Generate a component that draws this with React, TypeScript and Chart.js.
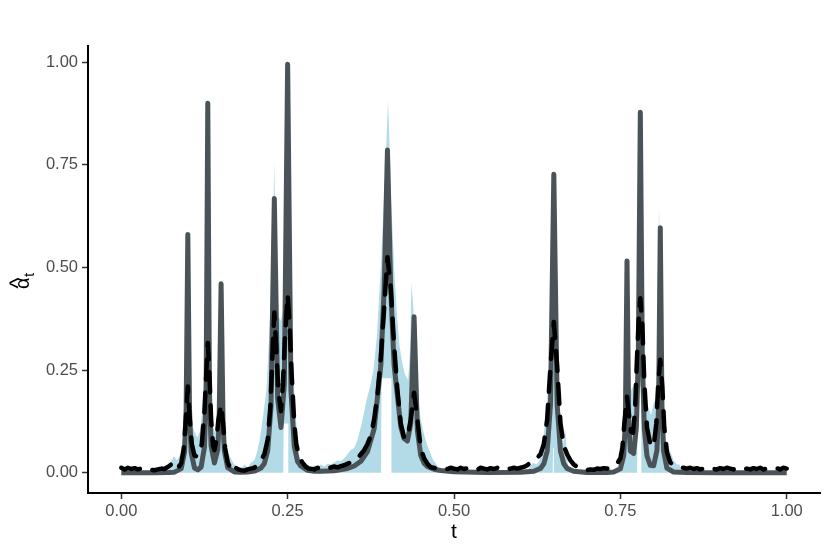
import React, { useEffect, useRef } from "react";
import { Chart, registerables } from "chart.js";

Chart.register(...registerables);

// True signal (solid grey line)
const trueT = [
  0, 0.05, 0.07, 0.08, 0.09, 0.095, 0.0975,
  0.1, 0.1025, 0.105, 0.11, 0.115, 0.12, 0.125, 0.1275,
  0.13, 0.1325, 0.135, 0.14, 0.145, 0.147,
  0.15, 0.153, 0.155, 0.16, 0.17, 0.18, 0.19, 0.2,
  0.21, 0.215, 0.22, 0.225, 0.23, 0.235, 0.24, 0.245,
  0.25, 0.255, 0.26, 0.265, 0.27, 0.28, 0.29, 0.3,
  0.32, 0.34, 0.35, 0.36, 0.37, 0.38, 0.39, 0.395,
  0.4, 0.405, 0.41, 0.42, 0.425, 0.43, 0.435,
  0.44, 0.445, 0.45, 0.455, 0.46, 0.47, 0.48, 0.5,
  0.55, 0.6, 0.62, 0.63, 0.635, 0.64, 0.645,
  0.65, 0.655, 0.66, 0.665, 0.67, 0.68, 0.7,
  0.73, 0.74, 0.75, 0.755, 0.7575,
  0.76, 0.7625, 0.765, 0.77, 0.774, 0.777,
  0.78, 0.783, 0.786, 0.79, 0.795, 0.8, 0.805, 0.8075,
  0.81, 0.8125, 0.815, 0.82, 0.83, 0.85, 0.9, 1,
];
const trueY = [
  0, 0.0001, 0.0004, 0.0013, 0.0099, 0.049, 0.155,
  0.58, 0.156, 0.05, 0.0113, 0.0072, 0.0138, 0.0625, 0.195,
  0.9, 0.196, 0.065, 0.0237, 0.056, 0.119,
  0.46, 0.117, 0.053, 0.012, 0.0018, 0.0011, 0.0019, 0.0038,
  0.0113, 0.0225, 0.053, 0.161, 0.668, 0.18, 0.11, 0.214,
  0.995, 0.199, 0.064, 0.027, 0.0157, 0.0057, 0.0035, 0.0032,
  0.0047, 0.0104, 0.0163, 0.0279, 0.0514, 0.107, 0.261, 0.445,
  0.786, 0.445, 0.262, 0.112, 0.083, 0.077, 0.119,
  0.38, 0.1025, 0.042, 0.0233, 0.0153, 0.0083, 0.0052, 0.0025,
  0.0007, 0.00085, 0.0033, 0.0104, 0.0216, 0.0527, 0.1665,
  0.727, 0.1665, 0.0527, 0.0216, 0.0104, 0.0033, 0.0007,
  0.0007, 0.0018, 0.0095, 0.0415, 0.125,
  0.516, 0.13, 0.0527, 0.0466, 0.1095, 0.2815,
  0.878, 0.2808, 0.108, 0.0406, 0.0179, 0.0169, 0.0549, 0.165,
  0.597, 0.164, 0.0526, 0.011, 0.0017, 0.0002, 0, 0,
];

// Estimate (black dashed line)
const estT = [
  0, 0.005, 0.01, 0.015, 0.02, 0.025, 0.03, 0.035, 0.04, 0.045,
  0.05, 0.055, 0.06, 0.065, 0.07, 0.075, 0.078, 0.082, 0.086, 0.09,
  0.094, 0.097, 0.1, 0.103, 0.106, 0.11, 0.113, 0.117, 0.121, 0.125,
  0.128, 0.13, 0.132, 0.135, 0.138, 0.14, 0.143, 0.146, 0.15, 0.153,
  0.156, 0.16, 0.163, 0.167, 0.172, 0.176, 0.18, 0.185, 0.19, 0.195,
  0.2, 0.205, 0.21, 0.215, 0.22, 0.224, 0.227, 0.23, 0.233, 0.236,
  0.24, 0.243, 0.246, 0.25, 0.253, 0.256, 0.26, 0.263, 0.267, 0.272,
  0.277, 0.282, 0.29, 0.295, 0.3, 0.305, 0.31, 0.315, 0.32, 0.325,
  0.33, 0.335, 0.34, 0.345, 0.35, 0.355, 0.36, 0.365, 0.37, 0.375,
  0.38, 0.385, 0.39, 0.395, 0.4, 0.405, 0.41, 0.415, 0.42, 0.425,
  0.43, 0.435, 0.44, 0.445, 0.45, 0.455, 0.46, 0.465, 0.47, 0.475,
  0.48, 0.485, 0.49, 0.495, 0.5, 0.505, 0.51, 0.515, 0.52, 0.525,
  0.53, 0.535, 0.54, 0.545, 0.55, 0.555, 0.56, 0.565, 0.57, 0.575,
  0.58, 0.585, 0.59, 0.595, 0.6, 0.605, 0.61, 0.615, 0.62, 0.625,
  0.63, 0.635, 0.64, 0.645, 0.65, 0.655, 0.66, 0.665, 0.67, 0.675,
  0.68, 0.685, 0.69, 0.695, 0.7, 0.705, 0.71, 0.715, 0.72, 0.725,
  0.73, 0.735, 0.74, 0.745, 0.75, 0.753, 0.756, 0.76, 0.763, 0.766,
  0.769, 0.772, 0.775, 0.778, 0.78, 0.783, 0.786, 0.79, 0.795, 0.8,
  0.804, 0.807, 0.81, 0.813, 0.816, 0.82, 0.825, 0.83, 0.835, 0.84,
  0.845, 0.85, 0.855, 0.86, 0.865, 0.87, 0.875, 0.88, 0.885, 0.89,
  0.895, 0.9, 0.905, 0.91, 0.915, 0.92, 0.925, 0.93, 0.935, 0.94,
  0.945, 0.95, 0.955, 0.96, 0.965, 0.97, 0.975, 0.98, 0.985, 0.99,
  0.995, 1,
];
const estY = [
  0.012, 0.008, 0.012, 0.009, 0.011, 0.008, 0.01, 0.009, 0.011, 0.007,
  0.006, 0.008, 0.01, 0.009, 0.014, 0.02, 0.028, 0.02, 0.014, 0.022,
  0.06, 0.13, 0.21, 0.13, 0.07, 0.042, 0.04, 0.045, 0.07, 0.15,
  0.25, 0.316, 0.26, 0.13, 0.065, 0.055, 0.08, 0.13, 0.165, 0.12,
  0.06, 0.025, 0.015, 0.025, 0.012, 0.008, 0.006, 0.005, 0.008, 0.01,
  0.012, 0.02, 0.03, 0.045, 0.08, 0.16, 0.28, 0.39, 0.3, 0.2,
  0.15, 0.22, 0.33, 0.433, 0.36, 0.24, 0.12, 0.07, 0.04, 0.025,
  0.015, 0.01, 0.008, 0.012, 0.01, 0.007, 0.01, 0.013, 0.015, 0.013,
  0.016, 0.018, 0.022, 0.025, 0.03, 0.035, 0.045, 0.055, 0.07, 0.09,
  0.13, 0.19, 0.28, 0.4, 0.525, 0.45, 0.31, 0.2, 0.12, 0.085,
  0.085, 0.13, 0.195, 0.13, 0.06, 0.035, 0.022, 0.013, 0.012, 0.009,
  0.011, 0.008, 0.009, 0.012, 0.01, 0.008, 0.012, 0.009, 0.011, 0.008,
  0.01, 0.007, 0.012, 0.01, 0.008, 0.011, 0.009, 0.012, 0.008, 0.01,
  0.008, 0.01, 0.012, 0.01, 0.012, 0.014, 0.018, 0.025, 0.032, 0.036,
  0.045, 0.07, 0.13, 0.26, 0.367, 0.26, 0.12, 0.065, 0.045, 0.03,
  0.02, 0.014, 0.01, 0.008, 0.006, 0.008, 0.007, 0.01, 0.009, 0.011,
  0.01, 0.012, 0.016, 0.022, 0.035, 0.06, 0.12, 0.185, 0.14, 0.1,
  0.097, 0.15, 0.28, 0.39, 0.425, 0.36, 0.22, 0.11, 0.07, 0.063,
  0.12, 0.22, 0.275, 0.21, 0.11, 0.05, 0.025, 0.018, 0.016, 0.013,
  0.012, 0.01, 0.012, 0.009, 0.011, 0.008, 0.01, 0.006, 0.007, 0.009,
  0.008, 0.011, 0.009, 0.012, 0.01, 0.008, 0.011, 0.009, 0.007, 0.01,
  0.008, 0.011, 0.009, 0.012, 0.008, 0.01, 0.007, 0.009, 0.011, 0.008,
  0.012, 0.01,
];

// Interval band (light blue ribbon)
const ribbonT = [
  0, 0.06, 0.064, 0.069, 0.074, 0.079, 0.084, 0.089, 0.094, 0.097,
  0.1, 0.103, 0.106, 0.11, 0.114, 0.118, 0.122, 0.126, 0.13, 0.134,
  0.137, 0.14, 0.143, 0.146, 0.15, 0.154, 0.158, 0.162, 0.166, 0.17,
  0.175, 0.18, 0.185, 0.19, 0.195, 0.2, 0.204, 0.208, 0.213, 0.218,
  0.223, 0.227, 0.23, 0.233, 0.236, 0.24, 0.2435, 0.244, 0.247, 0.25,
  0.251, 0.2515, 0.253, 0.256, 0.26, 0.264, 0.268, 0.272, 0.276, 0.28,
  0.285, 0.29, 0.295, 0.3, 0.305, 0.31, 0.315, 0.32, 0.325, 0.33,
  0.335, 0.34, 0.345, 0.35, 0.355, 0.359, 0.364, 0.369, 0.374, 0.379,
  0.384, 0.389, 0.3905, 0.391, 0.396, 0.401, 0.406, 0.4065, 0.41, 0.414,
  0.418, 0.422, 0.426, 0.431, 0.434, 0.436, 0.439, 0.442, 0.446, 0.45,
  0.454, 0.459, 0.464, 0.469, 0.474, 0.478, 0.482, 0.61, 0.614, 0.619,
  0.624, 0.629, 0.634, 0.638, 0.641, 0.644, 0.647, 0.6484, 0.6487, 0.65,
  0.6502, 0.6515, 0.654, 0.657, 0.66, 0.664, 0.667, 0.671, 0.675, 0.68,
  0.74, 0.745, 0.749, 0.753, 0.757, 0.76, 0.763, 0.766, 0.769, 0.772,
  0.775, 0.7755, 0.776, 0.778, 0.78, 0.7815, 0.782, 0.784, 0.788, 0.792,
  0.796, 0.8, 0.804, 0.806, 0.808, 0.811, 0.814, 0.818, 0.824, 0.83,
  0.835, 0.839, 0.843, 1,
];
const ribbonUpper = [
  0, 0, 0.012, 0.008, 0.025, 0.04, 0.03, 0.045, 0.1, 0.25,
  0.55, 0.25, 0.12, 0.1, 0.085, 0.1, 0.15, 0.3, 0.7, 0.3,
  0.12, 0.1, 0.11, 0.2, 0.4, 0.15, 0.06, 0.045, 0.03, 0.02,
  0.015, 0.01, 0.02, 0.012, 0.025, 0.03, 0.05, 0.08, 0.136, 0.2,
  0.355, 0.5, 0.757, 0.45, 0.38, 0.37, 0.4, 0.42, 0.6, 0.85,
  0.7, 0.65, 0.5, 0.34, 0.2, 0.097, 0.035, 0.025, 0.015, 0.02,
  0.012, 0.018, 0.015, 0.02, 0.015, 0.022, 0.02, 0.025, 0.03, 0.028,
  0.035, 0.045, 0.056, 0.06, 0.08, 0.105, 0.14, 0.18, 0.21, 0.25,
  0.33, 0.47, 0.52, 0.54, 0.71, 0.907, 0.65, 0.63, 0.5, 0.39,
  0.31, 0.27, 0.24, 0.226, 0.3, 0.462, 0.4, 0.25, 0.18, 0.13,
  0.1, 0.07, 0.05, 0.03, 0.02, 0.008, 0, 0, 0.015, 0.024,
  0.02, 0.03, 0.08, 0.14, 0.2, 0.3, 0.5, 0.62, 0.64, 0.7,
  0.68, 0.6, 0.3, 0.12, 0.1, 0.07, 0.105, 0.02, 0.01, 0,
  0, 0.01, 0.02, 0.06, 0.1, 0.3, 0.18, 0.2, 0.21, 0.22,
  0.35, 0.4, 0.45, 0.75, 0.82, 0.65, 0.6, 0.18, 0.15, 0.16,
  0.14, 0.17, 0.18, 0.3, 0.657, 0.4, 0.1, 0.08, 0.056, 0.03,
  0.02, 0.02, 0, 0,
];
const ribbonLower = [
  0, 0, 0, 0, 0, 0, 0, 0, 0, 0,
  0, 0, 0, 0, 0, 0, 0, 0, 0, 0,
  0, 0, 0, 0, 0, 0, 0, 0, 0, 0,
  0, 0, 0, 0, 0, 0, 0, 0, 0, 0,
  0, 0, 0, 0, 0, 0, 0, 0.12, 0.12, 0.12,
  0.12, 0, 0, 0, 0, 0, 0, 0, 0, 0,
  0, 0, 0, 0, 0, 0, 0, 0, 0, 0,
  0, 0, 0, 0, 0, 0, 0, 0, 0, 0,
  0, 0, 0, 0.23, 0.23, 0.23, 0.23, 0, 0, 0,
  0, 0, 0, 0, 0, 0, 0, 0, 0, 0,
  0, 0, 0, 0, 0, 0, 0, 0, 0, 0,
  0, 0, 0, 0, 0, 0, 0, 0, 0.06, 0.06,
  0, 0, 0, 0, 0, 0, 0, 0, 0, 0,
  0, 0, 0, 0, 0, 0, 0, 0, 0, 0,
  0, 0, 0.21, 0.21, 0.21, 0.21, 0, 0, 0, 0,
  0, 0, 0, 0, 0, 0, 0, 0, 0, 0,
  0, 0, 0, 0,
];

const xTicks = [0, 0.25, 0.5, 0.75, 1];
const xTickLabels = ["0.00", "0.25", "0.50", "0.75", "1.00"];
const yTicks = [0, 0.25, 0.5, 0.75, 1];
const yTickLabels = ["0.00", "0.25", "0.50", "0.75", "1.00"];

const FONT = "'Liberation Sans', Arial, sans-serif";

const toPts = (xs: number[], ys: number[]) => xs.map((x, i) => ({ x, y: ys[i] }));

const yTitlePlugin = {
  id: "yTitle",
  afterDraw(chart: any) {
    const ctx = chart.ctx;
    ctx.save();
    ctx.translate(29, 289);
    ctx.rotate(-Math.PI / 2);
    ctx.fillStyle = "#000";
    ctx.textBaseline = "alphabetic";
    ctx.textAlign = "left";
    ctx.font = `20px ${FONT}`;
    ctx.fillText("α", 0, 0);
    const w = ctx.measureText("α").width;
    ctx.font = `23px ${FONT}`;
    const hw = ctx.measureText("^").width;
    ctx.fillText("^", (w - hw) / 2, -3);
    ctx.font = `15px ${FONT}`;
    ctx.fillText("t", w + 0.5, 5);
    ctx.restore();
  },
};

export default function App() {
  const ref = useRef<HTMLCanvasElement | null>(null);
  useEffect(() => {
    if (!ref.current) return;
    const chart = new Chart(ref.current, {
      type: "line",
      data: {
        datasets: [
          {
            label: "estimate",
            data: toPts(estT, estY),
            borderColor: "#000000",
            borderWidth: 4.5,
            borderDash: [20, 13],
            borderCapStyle: "round",
            borderJoinStyle: "round",
            pointRadius: 0,
            fill: false,
            tension: 0,
          },
          {
            label: "truth",
            data: toPts(trueT, trueY),
            borderColor: "#4a5357",
            borderWidth: 5,
            borderCapStyle: "butt",
            borderJoinStyle: "round",
            pointRadius: 0,
            fill: false,
            tension: 0,
          },
          {
            label: "upper",
            data: toPts(ribbonT, ribbonUpper),
            borderWidth: 0,
            borderColor: "rgba(0,0,0,0)",
            backgroundColor: "#B2DAE7",
            pointRadius: 0,
            fill: "+1",
            tension: 0,
          },
          {
            label: "lower",
            data: toPts(ribbonT, ribbonLower),
            borderWidth: 0,
            borderColor: "rgba(0,0,0,0)",
            pointRadius: 0,
            fill: false,
            tension: 0,
          },
        ],
      },
      options: {
        animation: false,
        responsive: false,
        devicePixelRatio: 1,
        layout: { padding: { top: 46, right: 10, left: 0, bottom: 0 } },
        plugins: { legend: { display: false }, tooltip: { enabled: false } },
        scales: {
          x: {
            type: "linear",
            min: -0.05,
            max: 1.05,
            afterBuildTicks: (s: any) => {
              s.ticks = xTicks.map((v) => ({ value: v }));
            },
            afterFit: (s: any) => {
              s.height = 61;
            },
            grid: { drawOnChartArea: false, drawTicks: true, tickLength: 6, tickColor: "#333333", tickWidth: 1.5 },
            border: { display: true, color: "#000000", width: 2 },
            ticks: {
              autoSkip: false,
              maxRotation: 0,
              padding: 3,
              color: "#4D4D4D",
              font: { family: FONT, size: 16.5 },
              callback: (_v: any, i: number) => xTickLabels[i],
            },
            title: {
              display: true,
              text: "t",
              color: "#000000",
              font: { family: FONT, size: 21 },
              padding: { top: 0, bottom: 9 },
            },
          },
          y: {
            type: "linear",
            min: -0.0495,
            max: 1.0395,
            afterBuildTicks: (s: any) => {
              s.ticks = yTicks.map((v) => ({ value: v }));
            },
            afterFit: (s: any) => {
              s.width = 88;
            },
            grid: { drawOnChartArea: false, drawTicks: true, tickLength: 6, tickColor: "#333333", tickWidth: 1.5 },
            border: { display: true, color: "#000000", width: 2 },
            ticks: {
              autoSkip: false,
              padding: 4,
              color: "#4D4D4D",
              font: { family: FONT, size: 16.5 },
              callback: (_v: any, i: number) => yTickLabels[i],
            },
            title: { display: false },
          },
        },
      },
      plugins: [yTitlePlugin],
    });
    return () => chart.destroy();
  }, []);
  return (
    <div style={{ position: "absolute", left: 0, top: 0, width: 830, height: 554, background: "#fff" }}>
      <canvas ref={ref} width={830} height={554} style={{ display: "block" }} />
    </div>
  );
}
